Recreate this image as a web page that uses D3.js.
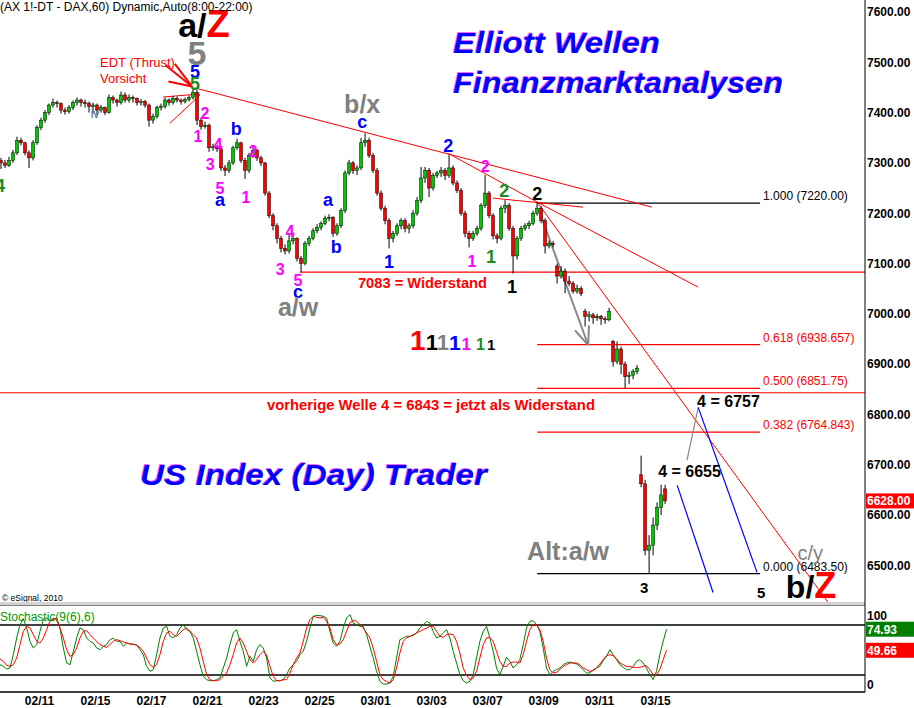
<!DOCTYPE html>
<html>
<head>
<meta charset="utf-8">
<script src="https://cdn.jsdelivr.net/npm/d3@7"></script>
<style>
  body { margin: 0; background: #fff; }
  svg { display: block; font-family: "Liberation Sans", Arial, sans-serif; }
</style>
</head>
<body>
<div id="chart"></div>
<script>
const width = 914, height = 708;

// ---- data -------------------------------------------------------------
// day index: 02/10 = 0, one unit per trading day
const candleStart = -0.357;
const candleStep = 1 / 7;
// [open, high, low, close]
const candles = [
  [7305,7310,7288,7300],[7300,7306,7290,7295],[7295,7312,7292,7305],[7305,7326,7300,7320],
  [7320,7352,7316,7345],[7345,7350,7335,7340],[7340,7342,7315,7320],[7320,7325,7290,7310],
  [7310,7345,7305,7340],[7340,7375,7336,7370],[7370,7390,7365,7385],[7385,7405,7380,7400],
  [7400,7418,7395,7415],[7415,7428,7410,7420],[7420,7424,7410,7418],[7418,7420,7398,7405],
  [7405,7410,7396,7402],[7402,7415,7398,7410],[7410,7424,7405,7420],[7420,7430,7414,7425],
  [7425,7428,7412,7420],[7420,7426,7410,7418],[7418,7422,7400,7412],[7412,7420,7398,7415],
  [7415,7418,7395,7405],[7405,7415,7400,7410],[7410,7412,7395,7400],[7400,7436,7398,7430],
  [7430,7434,7418,7425],[7425,7428,7412,7420],[7420,7442,7416,7435],[7435,7440,7420,7425],
  [7425,7436,7420,7430],[7430,7434,7420,7428],[7428,7430,7414,7420],[7420,7427,7414,7422],
  [7422,7425,7410,7415],[7415,7418,7372,7385],[7385,7398,7378,7392],[7392,7414,7388,7410],
  [7410,7418,7404,7412],[7412,7430,7408,7425],[7425,7428,7414,7420],[7420,7433,7416,7428],
  [7428,7432,7420,7425],[7425,7428,7416,7422],[7422,7430,7418,7426],[7426,7434,7422,7430],
  [7430,7449,7426,7440],[7440,7445,7375,7385],[7385,7390,7366,7372],[7372,7382,7368,7375],
  [7375,7378,7322,7330],[7330,7338,7324,7332],[7332,7336,7322,7328],[7328,7330,7284,7290],
  [7290,7296,7274,7285],[7285,7306,7280,7300],[7300,7334,7296,7330],[7330,7348,7326,7340],
  [7340,7342,7300,7305],[7305,7310,7268,7285],[7285,7320,7280,7315],[7315,7332,7310,7325],
  [7325,7328,7304,7310],[7310,7314,7294,7300],[7300,7302,7235,7240],[7240,7244,7190,7195],
  [7195,7200,7166,7175],[7175,7180,7140,7150],[7150,7155,7122,7130],[7130,7138,7118,7125],
  [7125,7160,7120,7145],[7145,7162,7138,7150],[7150,7152,7104,7110],[7110,7115,7083,7100],
  [7100,7145,7096,7140],[7140,7155,7134,7150],[7150,7170,7146,7165],[7165,7178,7160,7172],
  [7172,7184,7166,7180],[7180,7195,7176,7190],[7190,7198,7184,7192],[7192,7194,7153,7160],
  [7160,7180,7155,7175],[7175,7210,7170,7205],[7205,7285,7200,7280],[7280,7306,7275,7300],
  [7300,7304,7278,7285],[7285,7295,7276,7290],[7290,7350,7286,7340],[7340,7359,7332,7345],
  [7345,7350,7310,7315],[7315,7320,7280,7285],[7285,7290,7235,7240],[7240,7245,7205,7210],
  [7210,7215,7178,7185],[7185,7190,7130,7150],[7150,7165,7142,7160],[7160,7180,7155,7175],
  [7175,7190,7168,7185],[7185,7190,7162,7170],[7170,7180,7160,7175],[7175,7206,7170,7200],
  [7200,7232,7195,7225],[7225,7292,7220,7270],[7270,7292,7260,7285],[7285,7290,7232,7250],
  [7250,7280,7245,7275],[7275,7284,7270,7280],[7280,7292,7272,7285],[7285,7290,7266,7275],
  [7275,7316,7270,7290],[7290,7295,7255,7260],[7260,7265,7240,7245],[7245,7250,7195,7200],
  [7200,7205,7152,7160],[7160,7165,7132,7150],[7150,7165,7145,7160],[7160,7175,7155,7170],
  [7170,7220,7165,7215],[7215,7276,7210,7240],[7240,7244,7190,7195],[7195,7200,7148,7155],
  [7155,7160,7140,7150],[7150,7215,7146,7210],[7210,7226,7200,7215],[7215,7220,7165,7170],
  [7170,7175,7080,7115],[7115,7155,7108,7150],[7150,7175,7145,7170],[7170,7180,7165,7175],
  [7175,7185,7168,7180],[7180,7205,7176,7200],[7200,7222,7195,7210],[7210,7214,7180,7185],
  [7185,7190,7120,7135],[7135,7146,7130,7140],[7140,7145,7132,7138],[7095,7100,7060,7075],
  [7075,7095,7070,7085],[7085,7090,7041,7065],[7065,7075,7055,7060],[7060,7065,7040,7045],
  [7045,7058,7040,7050],[7050,7055,7035,7040],[7005,7010,6975,6995],[6995,7005,6985,6998],
  [6998,7002,6980,6992],[6992,7000,6986,6995],[6995,6998,6978,6990],[6990,6995,6980,6988],
  [6988,7012,6985,7005],[6945,6948,6895,6905],[6905,6945,6900,6930],[6930,6935,6880,6900],
  [6900,6905,6852,6875],[6875,6885,6860,6878],[6878,6890,6870,6885],[6885,6898,6880,6892],
  [6680,6718,6655,6662],[6662,6670,6520,6530],[6530,6560,6484,6540],[6540,6595,6520,6580],
  [6580,6625,6570,6615],[6615,6660,6600,6640],[6652,6660,6622,6628]
];

// Stochastic(9(6),6): %K green, %D red
const stochStart = -0.393;
const stochStep = 0.119;
const stochK = [
  32.4,30.4,27.2,28.4,44.4,64.4,80.4,87.6,76.4,60.4,
  52.4,56.4,72.4,86.4,88.4,85.2,86.4,88.4,76.4,52.4,
  34.4,32.4,48.4,64.4,76.4,74.4,64.4,60.4,58.4,52.4,
  50.4,54.4,56.4,62.4,64.4,60.4,60.4,54.4,58.4,57.2,
  56.4,56.4,50.4,44.4,30.4,24.4,26.4,44.4,64.4,76.4,
  78.4,66.4,64.4,68.4,76.4,80.4,74.4,72.4,64.4,48.4,
  32.4,18.4,14.4,13.2,13.2,14.4,16.4,28.4,40.4,56.4,
  70.4,74.4,60.4,48.4,30.4,42.4,36.4,50.4,56.4,52.4,
  40.4,16.4,12.4,13.2,13.2,14.4,20.4,28.4,32.4,36.4,
  44.4,48.4,60.4,76.4,90.4,91.6,91.2,90.4,88.4,72.4,
  58.4,54.4,60.4,76.4,88.4,92.4,82.4,80.4,78.4,78.4,
  68.4,54.4,40.4,24.4,12.4,9.2,9.2,10.4,18.4,40.4,
  62.4,64.4,66.4,66.4,68.4,70.4,76.4,80.4,84.4,82.4,
  72.4,64.4,66.4,70.4,74.4,
  64.4,48.4,34.4,20.4,13.2,10.4,12.4,20.4,40.4,60.4,
  72.4,78.4,64.4,48.4,28.4,20.4,30.4,41.2,36.4,28.4,
  32.4,38.4,56.4,76.4,84.4,85.2,80.4,72.4,52.4,28.4,
  20.4,24.4,26.4,28.4,32.4,34.4,35.6,34.4,33.2,30.4,
  26.4,22.4,22.4,26.4,28.4,30.4,37.2,42.4,50.4,44.4,
  38.4,32.4,29.2,26.4,26.4,30.4,36.4,38.4,34.4,28.4,
  20.4,14.4,24.4,44.4,60.4,74.93
];
const stochD = [
  39.2,36.4,31.6,30.4,32.4,40.4,56.4,72.4,78.4,76.4,
  68.4,60.4,58.4,64.4,74.4,84.4,88.4,86.4,76.4,64.4,
  50.4,42.4,44.4,52.4,64.4,72.4,73.2,68.4,64.4,60.4,
  56.4,54.4,53.2,56.4,60.4,62.4,61.2,59.6,58.4,57.2,
  57.2,55.6,53.2,48.4,40.4,32.4,29.2,32.4,44.4,60.4,
  70.4,72.4,68.4,66.4,70.4,74.4,76.4,72.4,68.4,64.4,
  52.4,36.4,20.4,14.4,13.2,13.2,14.4,18.4,22.4,32.4,
  44.4,58.4,64.4,58.4,48.4,38.4,34.4,38.4,44.4,48.4,
  44.4,30.4,18.4,13.2,13.2,14.4,14.4,22.4,32.4,40.4,
  46.4,60.4,76.4,86.4,90.4,89.2,88.4,89.2,84.4,76.4,
  62.4,56.4,57.2,62.4,72.4,82.4,85.6,84.4,80.4,76.4,
  70.4,64.4,52.4,36.4,20.4,14.4,12.4,10.4,14.4,28.4,
  46.4,60.4,64.4,66.4,67.6,70.4,72.4,74.4,76.4,78.4,
  78.4,72.4,66.4,65.2,68.4,
  69.2,68.4,60.4,46.4,28.4,19.6,14.4,16.4,24.4,40.4,
  56.4,64.4,65.2,60.4,48.4,36.4,30.4,30.4,34.4,35.6,
  35.6,34.4,44.4,60.4,74.4,80.4,80.4,74.4,60.4,40.4,
  26.4,22.4,23.2,26.4,30.4,32.4,34.4,34.4,34.4,32.4,
  28.4,26.4,24.4,25.2,28.4,33.2,38.4,43.2,44.4,43.2,
  39.6,34.4,32.4,30.4,30.4,29.2,29.2,29.2,30.4,31.2,
  26.4,20.4,20.4,26.4,38.4,49.66
];

const dateLabels = ["02/11","02/15","02/17","02/21","02/23","02/25","03/01","03/03","03/07","03/09","03/11","03/15"];
const dateDays = [1, 3, 5, 7, 9, 11, 13, 15, 17, 19, 21, 23];
const priceTicks = [6500, 6600, 6700, 6800, 6900, 7000, 7100, 7200, 7300, 7400, 7500, 7600];
const lastPrice = 6628.00;

const fibRatios = ["1.000", "0.618", "0.500", "0.382", "0.000"];
const fibPrices = [7220.00, 6938.657, 6851.75, 6764.843, 6483.50];
const fibRange = [18.79, 26.75];

const resistance7083 = 7083;
const resistance6843 = 6843;

// trend lines: [day1, price1, day2, price2]
const redLines = [
  [6.57, 7449, 22.89, 7212],
  [15.61, 7319, 18.79, 7222],
  [17.21, 7230, 20.43, 7212],
  [18.79, 7222, 24.54, 7053],
  [18.79, 7222, 29.18, 6426],
  [5.43, 7431, 6.75, 7437],
  [5.68, 7379, 6.75, 7435]
];
const edtArrow = [
  [5.52, 7494, 6.46, 7452],
  [5.85, 7497, 6.46, 7452],
  [5.62, 7462, 6.46, 7452]
];
const grayArrow = [[18.89, 7200, 20.61, 6938], [20.14, 6967, 20.61, 6938], [20.64, 6977, 20.61, 6938]];
const grayPath = [[24.14, 6709, 24.54, 6814]];
const blueLines = [[24.54, 6814, 26.64, 6486], [23.79, 6659, 25.07, 6446]];

// wave labels: [text, day, price, style]
const waveLabels = [
  ["5", 6.64, 7495, "big5"], ["5", 6.57, 7469, "blue"], ["5", 6.57, 7445, "green"],
  ["2", 6.93, 7387, "pink"], ["1", 6.68, 7341, "pink"], ["4", 7.39, 7325, "pink"],
  ["3", 7.11, 7286, "pink"], ["5", 7.46, 7238, "pink"], ["a", 7.46, 7214, "blue"],
  ["b", 8.04, 7355, "blue"], ["1", 8.39, 7220, "pink"], ["2", 8.64, 7312, "pink"],
  ["3", 9.61, 7077, "pink"], ["4", 9.96, 7152, "pink"], ["5", 10.25, 7055, "pink"],
  ["c", 10.25, 7031, "blue"], ["a/w", 10.25, 6995, "grayBig"],
  ["a", 11.32, 7214, "blue"], ["b", 11.61, 7121, "blue"],
  ["b/x", 12.54, 7399, "grayBig"], ["c", 12.54, 7369, "blue"], ["1", 13.5, 7091, "blue"],
  ["2", 15.61, 7321, "blue"], ["1", 16.46, 7093, "pink"], ["2", 16.93, 7282, "pink"],
  ["1", 17.14, 7101, "green"], ["2", 17.61, 7232, "green"], ["1", 17.89, 7041, "black"],
  ["2", 18.79, 7226, "black"], ["4", -0.39, 7242, "green"], ["iv", 3.0, 7389, "iv"],
  ["3", 22.61, 6444, "blackSm"], ["5", 26.79, 6434, "blackSm"], ["c/y", 28.54, 6510, "grayThin"]
];
const labelStyles = {
  pink: { fill: "#ff00ff", size: 16, weight: "bold" },
  blue: { fill: "#0000ff", size: 18, weight: "bold" },
  green: { fill: "#1e8c1e", size: 18, weight: "bold" },
  black: { fill: "#000", size: 18, weight: "bold" },
  blackSm: { fill: "#000", size: 15, weight: "bold" },
  big5: { fill: "#808080", size: 34, weight: "bold" },
  grayBig: { fill: "#808080", size: 25, weight: "bold" },
  grayThin: { fill: "#808080", size: 20, weight: "normal" },
  iv: { fill: "#4a6a9a", size: 12, weight: "normal" }
};

// ---- scales -----------------------------------------------------------
const x = d3.scaleLinear().domain([-0.393, 30.46]).range([0, 864]);
const y = d3.scaleLinear().domain([6500, 7600]).range([565.3, 12]);
const yS = d3.scaleLinear().domain([0, 100]).range([691.7, 608.3]);
const axisX = 865;

const svg = d3.select("#chart").append("svg")
  .attr("width", width)
  .attr("height", height);

svg.append("defs").append("clipPath").attr("id", "mainClip")
  .append("rect").attr("x", 0).attr("y", 0).attr("width", axisX).attr("height", 602);

const main = svg.append("g").attr("clip-path", "url(#mainClip)");

// header
svg.append("text").attr("x", 0).attr("y", 11).attr("font-size", 12)
  .text("(AX 1!-DT - DAX,60) Dynamic,Auto(8:00-22:00)");

// horizontal resistance lines
main.append("line")
  .attr("x1", x(10.32)).attr("x2", axisX)
  .attr("y1", y(resistance7083)).attr("y2", y(resistance7083))
  .attr("stroke", "#ff0000").attr("stroke-width", 1.2);
main.append("line")
  .attr("x1", 0).attr("x2", axisX)
  .attr("y1", y(resistance6843)).attr("y2", y(resistance6843))
  .attr("stroke", "#ff0000").attr("stroke-width", 1.2);

// fibonacci levels
fibPrices.forEach((p, i) => {
  const col = (i === 0 || i === 4) ? "#000" : "#ff0000";
  main.append("line")
    .attr("x1", x(fibRange[0])).attr("x2", x(fibRange[1]))
    .attr("y1", y(p)).attr("y2", y(p))
    .attr("stroke", col).attr("stroke-width", 1.2);
  main.append("text")
    .attr("x", x(fibRange[1]) + 3).attr("y", y(p) - 3)
    .attr("font-size", 12).attr("fill", col)
    .text(`${fibRatios[i]} (${i === 0 || i === 4 ? p.toFixed(2) : p})`);
});

const drawSegs = (segs, color, w) => {
  main.selectAll(null).data(segs).enter().append("line")
    .attr("x1", d => x(d[0])).attr("y1", d => y(d[1]))
    .attr("x2", d => x(d[2])).attr("y2", d => y(d[3]))
    .attr("stroke", color).attr("stroke-width", w);
};
drawSegs(redLines, "#ff0000", 1);
drawSegs(edtArrow, "#ff0000", 2);
drawSegs(grayArrow, "#888", 2);
drawSegs(grayPath, "#888", 1.2);
drawSegs(blueLines, "#0000ff", 1.2);

// candles
const cg = main.append("g");
cg.selectAll("line").data(candles).enter().append("line")
  .attr("x1", (d, i) => x(candleStart + i * candleStep))
  .attr("x2", (d, i) => x(candleStart + i * candleStep))
  .attr("y1", d => y(d[1])).attr("y2", d => y(d[2]))
  .attr("stroke", "#000").attr("stroke-width", 1);
cg.selectAll("rect").data(candles).enter().append("rect")
  .attr("x", (d, i) => x(candleStart + i * candleStep) - 1.5)
  .attr("width", 3)
  .attr("y", d => y(Math.max(d[0], d[3])))
  .attr("height", d => Math.max(1, Math.abs(y(d[0]) - y(d[3]))))
  .attr("fill", d => d[3] >= d[0] ? "#00c800" : "#ff0000")
  .attr("stroke", "#000").attr("stroke-width", 0.5);

// wave labels
main.selectAll(".wave").data(waveLabels).enter().append("text")
  .attr("class", "wave")
  .attr("x", d => x(d[1])).attr("y", d => y(d[2]))
  .attr("text-anchor", "middle")
  .attr("font-size", d => labelStyles[d[3]].size)
  .attr("font-weight", d => labelStyles[d[3]].weight)
  .attr("fill", d => labelStyles[d[3]].fill)
  .text(d => d[0]);

// big composite labels
const slashZ = (t, p, size, lead) => {
  const tx = main.append("text").attr("x", x(t)).attr("y", y(p))
    .attr("text-anchor", "middle").attr("font-size", size).attr("font-weight", "bold");
  tx.append("tspan").attr("fill", "#000").text(lead);
  tx.append("tspan").attr("fill", "#ff0000").attr("font-size", size + 4).text("Z");
};
slashZ(6.89, 7550, 34, "a/");
slashZ(28.57, 6434, 32, "b/");

// EDT note
main.append("text").attr("x", x(3.18)).attr("y", y(7491)).attr("font-size", 13)
  .attr("fill", "#ff0000").text("EDT (Thrust)");
main.append("text").attr("x", x(3.18)).attr("y", y(7459)).attr("font-size", 13)
  .attr("fill", "#ff0000").text("Vorsicht");

// resistance notes
main.append("text").attr("x", x(12.39)).attr("y", y(7051)).attr("font-size", 14)
  .attr("font-weight", "bold").attr("fill", "#ff0000")
  .attr("textLength", 129).attr("lengthAdjust", "spacingAndGlyphs").text("7083 = Widerstand");
main.append("text").attr("x", x(9.14)).attr("y", y(6808)).attr("font-size", 14)
  .attr("font-weight", "bold").attr("fill", "#ff0000")
  .attr("textLength", 328).attr("lengthAdjust", "spacingAndGlyphs")
  .text("vorherige Welle 4 = 6843 = jetzt als Widerstand");

main.append("text").attr("x", x(24.5)).attr("y", y(6814)).attr("font-size", 16)
  .attr("font-weight", "bold").text("4 = 6757");
main.append("text").attr("x", x(23.11)).attr("y", y(6675)).attr("font-size", 16)
  .attr("font-weight", "bold").text("4 = 6655");
main.append("text").attr("x", x(18.43)).attr("y", y(6510)).attr("font-size", 25)
  .attr("font-weight", "bold").attr("fill", "#808080").text("Alt:a/w");

// row of degree ones
const ones = main.append("text").attr("x", x(14.25)).attr("y", y(6928)).attr("font-weight", "bold");
[["#ff0000", 28, 0], ["#000", 22, 0], ["#808080", 22, 0], ["#0000ff", 21, 0],
 ["#ff00ff", 17, 1], ["#1e8c1e", 16, 5], ["#000", 15, 2]].forEach(([c, s, dx]) => {
  ones.append("tspan").attr("fill", c).attr("font-size", s).attr("dx", dx).text("1");
});

// titles (blue with a faint magenta fringe)
const title = (txt, tx, ty, len) => {
  [["#ff00ff", -0.7, 0.6], ["#0000ff", 0, 1]].forEach(([c, o, op]) => {
    svg.append("text").attr("x", tx + o).attr("y", ty + o)
      .attr("font-size", 29).attr("font-weight", "bold").attr("font-style", "italic")
      .attr("textLength", len).attr("lengthAdjust", "spacingAndGlyphs")
      .attr("fill", c).attr("fill-opacity", op).text(txt);
  });
};
title("Elliott Wellen", 453, 53, 207);
title("Finanzmarktanalysen", 453, 93, 330);
title("US Index (Day) Trader", 140, 485, 347);

svg.append("text").attr("x", 2).attr("y", 601).attr("font-size", 8.5).text("© eSignal, 2010");

// panel separator
svg.append("rect").attr("x", 0).attr("y", 602).attr("width", axisX).attr("height", 3).attr("fill", "#d4d4d4");
svg.append("line").attr("x1", 0).attr("x2", axisX).attr("y1", 605.5).attr("y2", 605.5).attr("stroke", "#808080");

// price axis
const pAxis = svg.append("g").attr("transform", `translate(${axisX},0)`)
  .call(d3.axisRight(y).tickValues(priceTicks).tickFormat(d3.format(".2f")).tickSize(0).tickPadding(2));
pAxis.select(".domain").remove();
pAxis.selectAll("text").attr("font-size", 12).attr("font-weight", "bold")
  .attr("font-family", "Liberation Sans, Arial, sans-serif").attr("fill", "#000");
svg.append("line").attr("x1", axisX).attr("x2", axisX).attr("y1", 0).attr("y2", 692)
  .attr("stroke", "#000");

const valueBox = (yy, val, col) => {
  svg.append("rect").attr("x", axisX + 1).attr("y", yy - 7.5).attr("width", 48).attr("height", 15).attr("fill", col);
  svg.append("text").attr("x", axisX + 2).attr("y", yy + 4.5).attr("font-size", 12)
    .attr("font-weight", "bold").attr("fill", "#fff").text(val);
};
valueBox(y(lastPrice), lastPrice.toFixed(2), "#ff0000");

// stochastic panel
svg.append("text").attr("x", 0).attr("y", 621).attr("font-size", 12).attr("fill", "#009900")
  .text("Stochastic(9(6),6)");
[80, 20].forEach(v => {
  svg.append("line").attr("x1", 0).attr("x2", axisX).attr("y1", yS(v)).attr("y2", yS(v))
    .attr("stroke", "#000").attr("stroke-width", 1.3);
});
svg.append("line").attr("x1", 0).attr("x2", axisX).attr("y1", 692).attr("y2", 692)
  .attr("stroke", "#000").attr("stroke-width", 1.3);

const sLine = d3.line().x((d, i) => x(stochStart + i * stochStep)).y(d => yS(d));
svg.append("path").datum(stochK).attr("d", sLine).attr("fill", "none")
  .attr("stroke", "#008000").attr("stroke-width", 1);
svg.append("path").datum(stochD).attr("d", sLine).attr("fill", "none")
  .attr("stroke", "#ff0000").attr("stroke-width", 1);

svg.append("text").attr("x", axisX + 2).attr("y", yS(100) + 12).attr("font-size", 12)
  .attr("font-weight", "bold").text("100");
svg.append("text").attr("x", axisX + 2).attr("y", yS(0) - 3).attr("font-size", 12)
  .attr("font-weight", "bold").text("0");
valueBox(yS(stochK[stochK.length - 1]), stochK[stochK.length - 1].toFixed(2), "#008000");
valueBox(yS(stochD[stochD.length - 1]), stochD[stochD.length - 1].toFixed(2), "#ff0000");

// date axis
const dAxis = svg.append("g").attr("transform", "translate(0,692)")
  .call(d3.axisBottom(x).tickValues(dateDays).tickFormat((d, i) => dateLabels[i]).tickSize(0).tickPadding(4));
dAxis.select(".domain").remove();
dAxis.selectAll("text").attr("font-size", 12).attr("font-weight", "bold")
  .attr("font-family", "Liberation Sans, Arial, sans-serif").attr("fill", "#000");
</script>
</body>
</html>
